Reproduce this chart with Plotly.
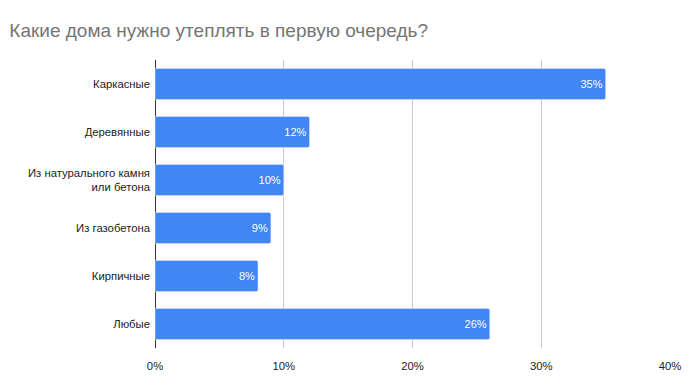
import plotly.graph_objects as go

categories = ["Каркасные", "Деревянные", "Из натурального камня<br>или бетона",
              "Из газобетона", "Кирпичные", "Любые"]
values = [35, 12, 10, 9, 8, 26]
x_ticks = [0, 10, 20, 30, 40]
x_tick_labels = ["0%", "10%", "20%", "30%", "40%"]

fig = go.Figure(go.Bar(
    y=categories, x=values, orientation="h",
    marker=dict(color="#4285F4", cornerradius=2),
    text=[f"{v}%" for v in values], textposition="inside",
    insidetextanchor="end",
    textfont=dict(color="white", size=11, family="Liberation Sans, Arial"),
    width=0.65,
))

# page body has an 8px margin, so the figure is sized/offset accordingly
fig.update_layout(
    width=682, height=384,
    margin=dict(l=147, r=20, t=52, b=44),
    plot_bgcolor="white", paper_bgcolor="white",
    font=dict(family="Liberation Sans, Arial", size=11, color="#222"),
    title=dict(text="Какие дома нужно утеплять в первую очередь?",
               x=0.002, xanchor="left", y=0.943, yanchor="middle",
               font=dict(size=19, color="#757575")),
    showlegend=False,
    uniformtext=dict(mode="show", minsize=8),
)
fig.update_xaxes(range=[0, 40], tickvals=x_ticks, ticktext=x_tick_labels,
                 showgrid=True, gridcolor="#cccccc", zeroline=True,
                 zerolinecolor="#333333", zerolinewidth=1,
                 ticks="", ticklabelstandoff=10, automargin=False,
                 tickfont=dict(size=11.3, color="#222"))
fig.update_yaxes(autorange="reversed", ticks="", ticklabelstandoff=4,
                 automargin=False,
                 tickfont=dict(size=11.3, color="#222"), showgrid=False)

fig.write_html("out.html")
